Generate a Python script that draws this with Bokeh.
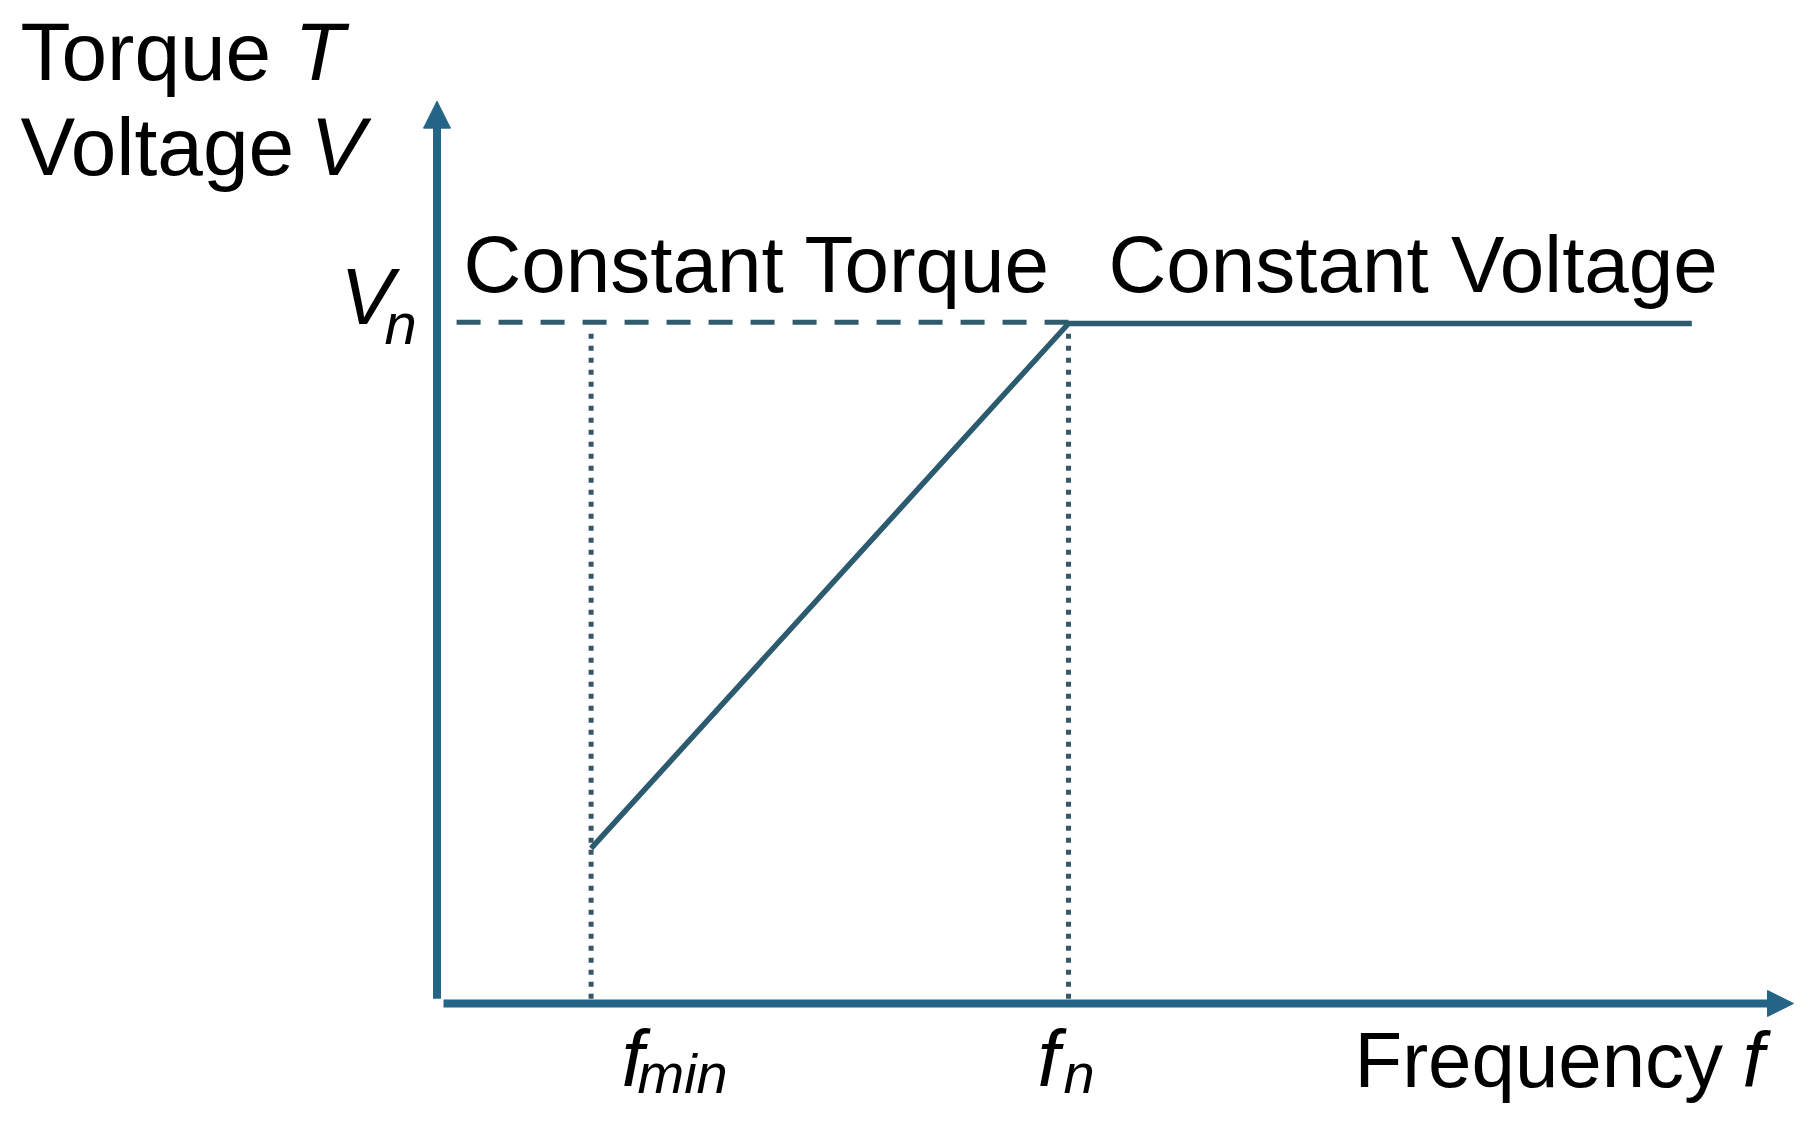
from bokeh.plotting import figure
from bokeh.models import Arrow, NormalHead, Label
from bokeh.embed import file_html
from bokeh.resources import INLINE

# ---- data (normalised units: f_n = 1, V_n = 1) ----
f_min = 0.244
f_n = 1.0
f_end = 1.987
V_n = 1.0
V_min = 0.228

curve_f = [f_min, f_n, f_end]
curve_v = [V_min, V_n, V_n]

x_axis_tip = 2.148
y_axis_tip = 1.327

AX = "#246587"
LN = "#2c5a6e"
DASH = "#2f5b6c"
DOT = "#385668"
FONT = "Liberation Sans"

W, H = 1794, 1106
p = figure(width=W, height=H, x_range=(-0.6912, 2.1496), y_range=(-0.1515, 1.475),
           output_backend="svg", toolbar_location=None, min_border=0,
           x_axis_location=None, y_axis_location=None)
p.grid.visible = False
p.outline_line_color = None
p.background_fill_color = "white"
p.border_fill_color = "white"

# axes (bodies)
p.segment(x0=[0.0], y0=[0.007], x1=[0.0], y1=[y_axis_tip - 0.038], line_color=AX, line_width=8)
p.segment(x0=[0.0103], y0=[0.0], x1=[x_axis_tip - 0.040], y1=[0.0], line_color=AX, line_width=8)
# arrow heads
p.add_layout(Arrow(end=NormalHead(size=27, fill_color=AX, line_color=AX, line_width=1),
                   x_start=0.0, y_start=y_axis_tip - 0.05, x_end=0.0, y_end=y_axis_tip, line_alpha=0))
p.add_layout(Arrow(end=NormalHead(size=26, fill_color=AX, line_color=AX, line_width=1),
                   x_start=x_axis_tip - 0.05, y_start=0.0, x_end=x_axis_tip, y_end=0.0, line_alpha=0))

# dashed V_n reference
p.line(x=[0.031, f_n], y=[V_n + 0.002, V_n + 0.002], line_color=DASH, line_width=5, line_dash="24 18")
# dotted verticals
for fx in [f_min, f_n]:
    p.line(x=[fx, fx], y=[0.007, V_n - 0.006], line_color=DOT, line_width=5, line_dash="5 7")
# characteristic curve
p.line(x=curve_f, y=curve_v, line_color=LN, line_width=5.5)

def lab(txt, px, py, size, italic=False):
    # px, py: canvas-pixel position (from top-left) of the text baseline start
    y_top = py - 0.355 * size  # compensate measured baseline shift
    p.add_layout(Label(x=px, y=H - y_top, x_units="screen", y_units="screen",
                       text=txt, text_font=FONT, text_font_size=f"{size}px",
                       text_font_style="italic" if italic else "normal",
                       text_color="#000000", text_baseline="alphabetic", text_align="left"))

lab("Torque", 20, 80, 82)
lab("T", 294, 80, 82, True)
lab("Voltage", 20, 175, 82)
lab("V", 310, 175, 82, True)

lab("V", 340, 324, 80, True)
lab("n", 384, 344, 58, True)

lab("Constant Torque", 463, 292, 80)
lab("Constant Voltage", 1108, 292, 80)

lab("f", 621, 1086, 80, True)
lab("min", 637, 1093, 56, True)
lab("f", 1037, 1086, 80, True)
lab("n", 1063, 1093, 56, True)

lab("Frequency", 1354, 1087, 78)
lab("f", 1742, 1087, 78, True)

open("out.html", "w").write(file_html(p, INLINE))
